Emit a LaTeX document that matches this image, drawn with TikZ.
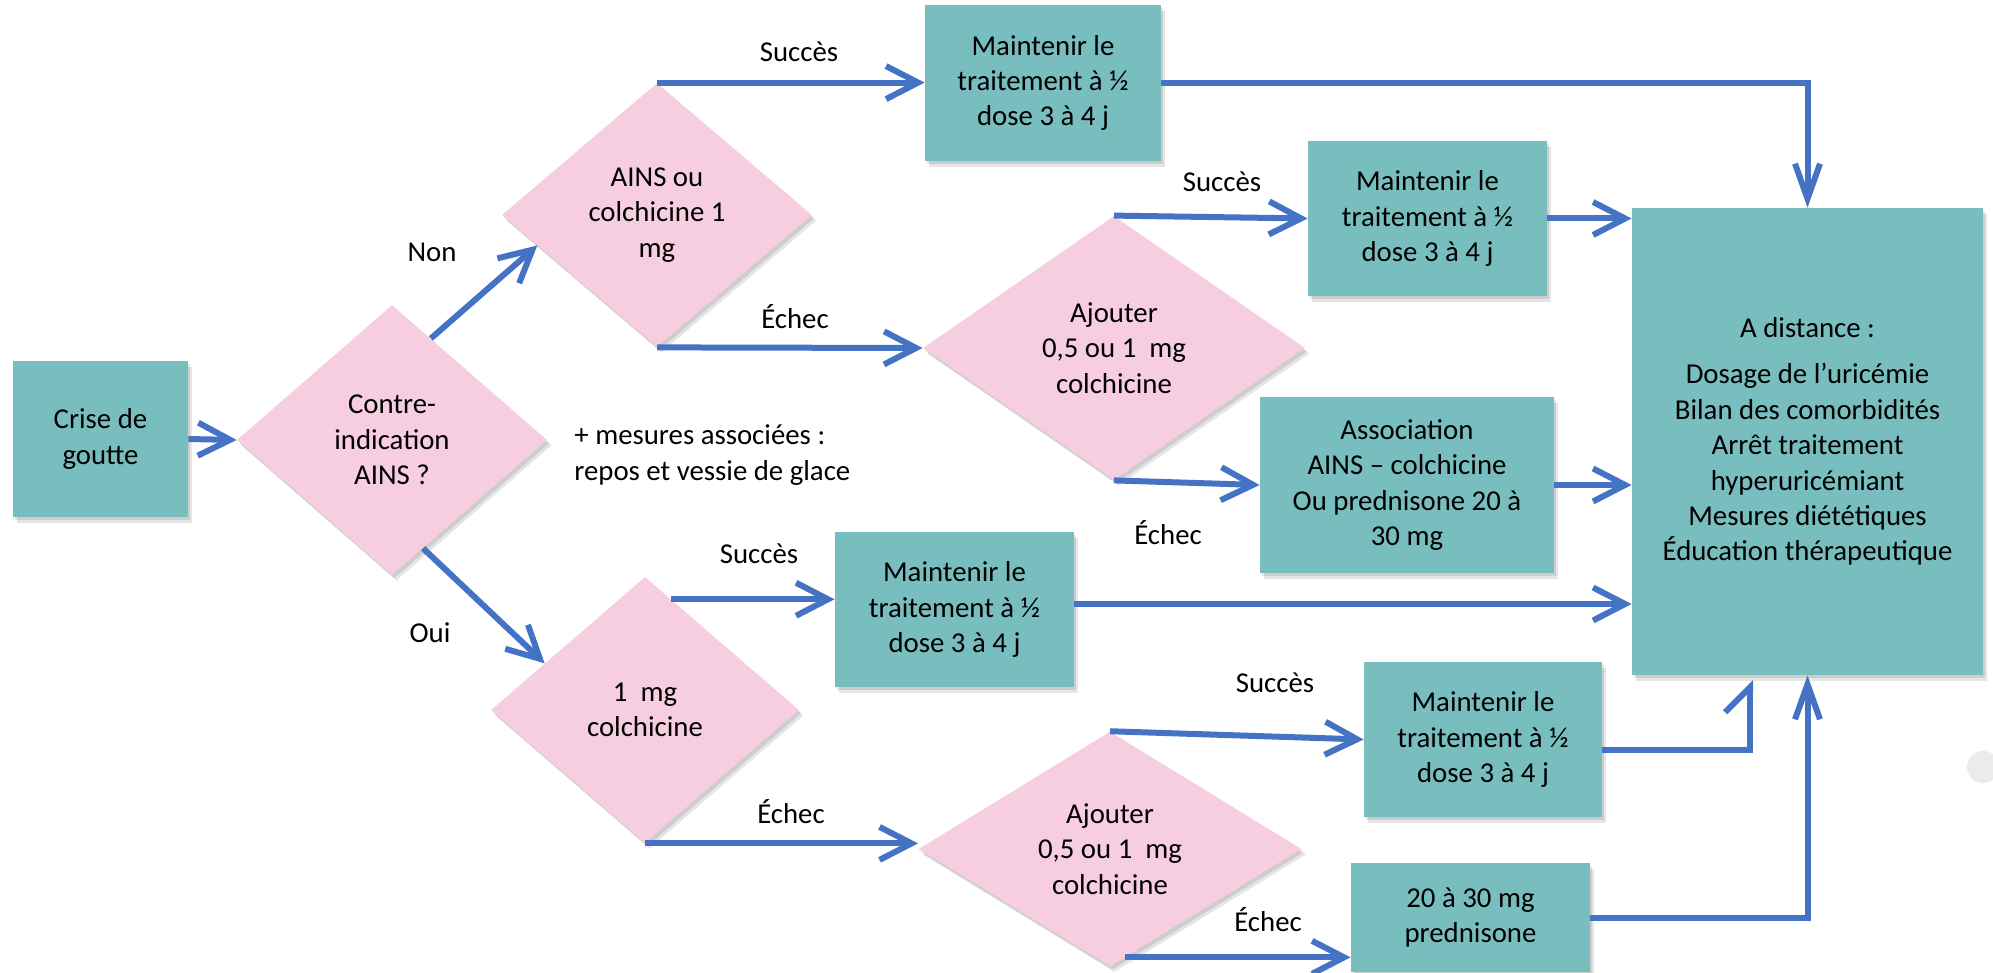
\documentclass[tikz,border=0pt]{standalone}
\usepackage{fontspec}
\setmainfont{Carlito}
\usetikzlibrary{shapes.geometric,arrows.meta,shadows,calc}
\definecolor{boxteal}{HTML}{78BEBF}
\definecolor{diapink}{HTML}{F7CEE0}
\definecolor{arrowblue}{HTML}{4472C4}
\begin{document}
\begin{tikzpicture}[x=0.5pt,y=-0.5pt,
  every node/.style={font=\fontsize{14.4pt}{17.7pt}\selectfont,text=black},
  softshadow/.style={
    general shadow={fill=black,opacity=0.10,shadow xshift=1.2pt,shadow yshift=-1.6pt},
    general shadow={fill=black,opacity=0.10,shadow xshift=2.2pt,shadow yshift=-2.8pt}},
  boxnode/.style={rectangle,fill=boxteal,inner sep=0pt,align=center,softshadow},
  dia/.style={diamond,fill=diapink,inner sep=0pt,align=center,softshadow},
  conn/.style={draw=arrowblue,line width=3pt,-{Straight Barb[length=16pt,width=16.5pt]}},
  connv/.style={draw=arrowblue,line width=3pt,-{Straight Barb[length=17.5pt,width=12.5pt]}},
  connhalf/.style={draw=arrowblue,line width=3pt,-{Straight Barb[length=12.5pt,width=25pt,left]}},
  lab/.style={inner sep=0pt}
]
\useasboundingbox[fill=white] (0,0) rectangle (1993,973);

% nodes
\node[boxnode,minimum width=87.5pt,minimum height=78pt] (crise) at (100.5,439) {Crise de\\goutte};
\node[dia,minimum width=155pt,minimum height=135pt] (contre) at (392,440) {Contre-\\indication\\AINS ?};
\node[dia,minimum width=155pt,minimum height=132pt] (ains) at (657,215) {AINS ou\\colchicine 1\\mg};
\node[boxnode,minimum width=118pt,minimum height=78pt] (box1) at (1043,83) {Maintenir le\\traitement à ½\\dose 3 à 4 j};
\node[dia,minimum width=191pt,minimum height=132pt] (aj1) at (1114,348) {Ajouter\\0,5 ou 1\ \ mg\\colchicine};
\node[boxnode,minimum width=119.5pt,minimum height=77.5pt] (box2) at (1427.5,218.5) {Maintenir le\\traitement à ½\\dose 3 à 4 j};
\node[boxnode,minimum width=147pt,minimum height=88pt] (assoc) at (1407,485) {Association\\AINS – colchicine\\Ou prednisone 20 à\\30 mg};
\node[boxnode,minimum width=175.5pt,minimum height=233.5pt] (adist) at (1807.5,441.5) {A distance :\\[5.5pt]Dosage de l’uricémie\\Bilan des comorbidités\\Arrêt traitement\\hyperuricémiant\\Mesures diététiques\\Éducation thérapeutique};
\node[dia,minimum width=154pt,minimum height=133pt] (unmg) at (645,710) {1\ \ mg\\colchicine};
\node[boxnode,minimum width=119.5pt,minimum height=77.5pt] (box3) at (954.5,609.5) {Maintenir le\\traitement à ½\\dose 3 à 4 j};
\node[dia,minimum width=191.5pt,minimum height=111pt] (aj2) at (1110,849) {Ajouter\\0,5 ou 1\ \ mg\\colchicine};
\node[boxnode,minimum width=119pt,minimum height=77.5pt] (box4) at (1483,739.5) {Maintenir le\\traitement à ½\\dose 3 à 4 j};
\node[boxnode,minimum width=119.5pt,minimum height=54.5pt] (box5) at (1470.5,917.5) {20 à 30 mg\\prednisone};

\node[lab,anchor=west,align=left] (mesures) at (574,455) {+ mesures associées :\\repos et vessie de glace};

% labels
\node[lab] (lnon) at (432,252) {Non};
\node[lab] (loui) at (430,633) {Oui};
\node[lab] (ls1) at (799,52) {Succès};
\node[lab] (le1) at (795,317) {Échec};
\node[lab] (ls2) at (1222,182) {Succès};
\node[lab] (le2) at (1168,533) {Échec};
\node[lab] (ls3) at (759,554) {Succès};
\node[lab] (le3) at (791,812) {Échec};
\node[lab] (ls4) at (1275,683) {Succès};
\node[lab] (le4) at (1268,920) {Échec};

% helper coordinates
\coordinate (nonS) at ($(contre.north)!0.25!(contre.east)$);
\coordinate (nonE) at ($(ains.west)!0.23!(ains.south)$);
\coordinate (ouiS) at ($(contre.south)!0.2!(contre.east)$);
\coordinate (ouiE) at ($(unmg.west)!0.35!(unmg.north)$);
\coordinate (s3) at ($(unmg.north)!0.17!(unmg.east)$);
\coordinate (e4) at ($(aj2.south)!0.08!(aj2.east)$);
\coordinate (b3out) at (box3.east |- 0,604);
\coordinate (b4out) at (box4.east |- 0,750);
\coordinate (b4turn) at (1750,750);
\coordinate (b4end) at (1750,680);
\coordinate (b5turn) at (adist.south |- box5.east);

% connectors
\draw[conn] (crise.east) -- (contre.west);
\draw[conn] (nonS) -- (nonE);
\draw[conn] (ouiS) -- (ouiE);
\draw[conn] (ains.north) -- (box1.west |- ains.north);
\draw[conn] (ains.south) -- (aj1.west);
\draw[connv] (box1.east) -| (adist.north);
\draw[conn] (aj1.north) -- (box2.west);
\draw[conn] (box2.east) -- (box2.east -| adist.west);
\draw[conn] (aj1.south) -- (assoc.west);
\draw[conn] (assoc.east) -- (assoc.east -| adist.west);
\draw[conn] (s3) -- (box3.west |- s3);
\draw[conn] (b3out) -- (b3out -| adist.west);
\draw[conn] (unmg.south) -- (aj2.west |- unmg.south);
\draw[conn] (aj2.north) -- (box4.west);
\draw[conn] (e4) -- (box5.west |- e4);
\draw[connhalf] (b4out) -- (b4turn) -- (b4end);
\draw[connv] (box5.east) -- (b5turn) -- (adist.south);

% light grey dot at the right edge
\fill[black!8] (1983,767) circle (16);
\end{tikzpicture}
\end{document}
